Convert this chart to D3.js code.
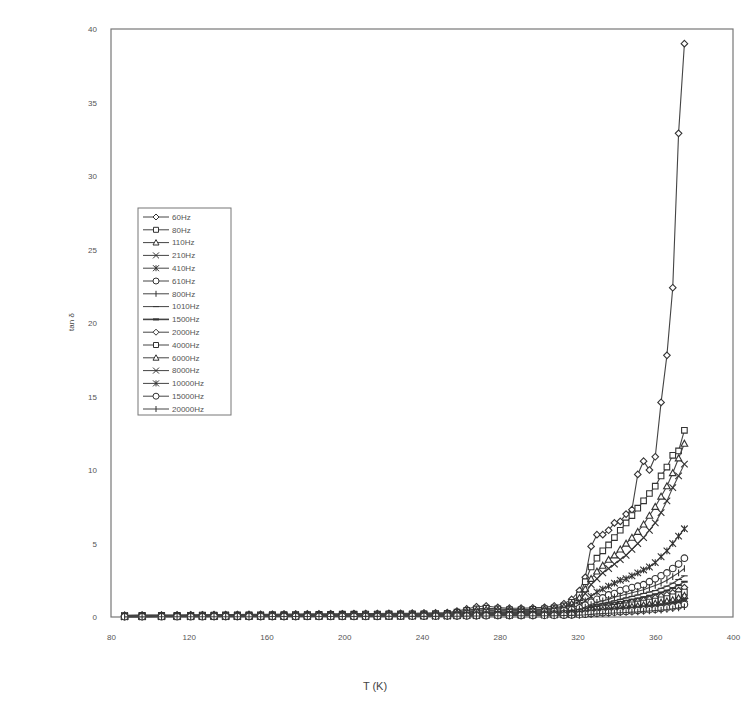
<!DOCTYPE html>
<html>
<head>
<meta charset="utf-8">
<script src="https://cdn.jsdelivr.net/npm/d3@7"></script>
<style>
  body { margin: 0; background: #fff; }
  svg { display: block; font-family: "Liberation Sans", Arial, sans-serif; }
  .axis text { fill: #555; font-size: 8px; }
  .axis path { display: none; }
</style>
</head>
<body>
<div id="chart"></div>
<script>
// temperature points (K), shared by every frequency
var temps = [87,96,106,114,121,127,133,139,145,151,157,163,169,175,181,187,193,199,205,211,217,223,229,235,241,247,253,
  258,263,268,273,279,285,291,297,303,308,313,317,321,
  324,327,330,333,336,339,342,345,348,351,354,357,360,363,366,369,372,375];

var freqs = ["60Hz","80Hz","110Hz","210Hz","410Hz","610Hz","800Hz","1010Hz","1500Hz","2000Hz","4000Hz","6000Hz","8000Hz","10000Hz","15000Hz","20000Hz"];

// tan delta per frequency, same order as temps
var tan60 = [0.12,0.13,0.13,0.14,0.15,0.15,0.16,0.16,0.17,0.18,0.18,0.19,0.2,0.2,0.21,0.21,0.22,0.22,0.23,0.24,0.24,0.25,0.25,0.26,0.27,0.28,0.3,
  0.4,0.55,0.7,0.75,0.65,0.6,0.6,0.62,0.66,0.75,0.9,1.2,1.8,
  2.7,4.8,5.6,5.6,5.9,6.4,6.5,7.0,7.3,9.7,10.6,10.0,10.9,14.6,17.8,22.4,32.9,39.0];
var tan80 = [0.1,0.11,0.11,0.12,0.12,0.13,0.13,0.14,0.14,0.15,0.15,0.16,0.16,0.17,0.17,0.18,0.18,0.19,0.19,0.2,0.2,0.21,0.21,0.22,0.22,0.23,0.25,
  0.33,0.45,0.55,0.6,0.55,0.5,0.5,0.52,0.56,0.62,0.75,1.0,1.5,
  2.4,3.4,4.0,4.5,4.9,5.4,5.9,6.4,6.9,7.4,7.9,8.4,8.9,9.6,10.2,11.0,11.3,12.7];
var tan110 = [0.09,0.1,0.1,0.1,0.11,0.11,0.12,0.12,0.13,0.13,0.14,0.14,0.15,0.15,0.16,0.16,0.17,0.17,0.18,0.18,0.19,0.19,0.2,0.2,0.21,0.21,0.22,
  0.28,0.38,0.46,0.5,0.48,0.46,0.46,0.48,0.52,0.58,0.68,0.9,1.3,
  1.9,2.6,3.1,3.5,3.9,4.2,4.6,5.0,5.4,5.8,6.3,6.9,7.5,8.2,8.9,9.8,10.8,11.8];
var tan210 = [0.08,0.09,0.09,0.09,0.1,0.1,0.1,0.11,0.11,0.12,0.12,0.13,0.13,0.14,0.14,0.15,0.15,0.15,0.16,0.16,0.17,0.17,0.18,0.18,0.19,0.19,0.2,
  0.25,0.33,0.4,0.44,0.43,0.42,0.42,0.44,0.47,0.52,0.6,0.8,1.1,
  1.6,2.2,2.6,3.0,3.3,3.6,3.9,4.2,4.6,5.0,5.4,5.9,6.4,7.1,7.9,8.8,9.6,10.4];
var tan410 = [0.07,0.08,0.08,0.08,0.09,0.09,0.09,0.1,0.1,0.1,0.11,0.11,0.12,0.12,0.12,0.13,0.13,0.13,0.14,0.14,0.15,0.15,0.15,0.16,0.16,0.17,0.17,
  0.21,0.27,0.32,0.35,0.35,0.35,0.36,0.38,0.4,0.44,0.5,0.62,0.8,
  1.1,1.4,1.7,1.9,2.1,2.3,2.5,2.6,2.8,3.0,3.2,3.4,3.7,4.1,4.5,5.0,5.5,6.0];
var tan610 = [0.06,0.07,0.07,0.07,0.08,0.08,0.08,0.09,0.09,0.09,0.1,0.1,0.1,0.11,0.11,0.11,0.12,0.12,0.12,0.13,0.13,0.13,0.14,0.14,0.14,0.15,0.15,
  0.18,0.23,0.27,0.3,0.3,0.3,0.31,0.32,0.34,0.37,0.42,0.5,0.62,
  0.8,1.0,1.2,1.3,1.5,1.6,1.8,1.9,2.0,2.1,2.2,2.4,2.6,2.8,3.0,3.3,3.6,4.0];
var tan800 = [0.06,0.06,0.06,0.07,0.07,0.07,0.08,0.08,0.08,0.08,0.09,0.09,0.09,0.1,0.1,0.1,0.11,0.11,0.11,0.12,0.12,0.12,0.13,0.13,0.13,0.14,0.14,
  0.16,0.2,0.24,0.26,0.27,0.27,0.28,0.29,0.3,0.33,0.37,0.44,0.54,
  0.68,0.85,1.0,1.1,1.2,1.35,1.45,1.55,1.65,1.75,1.85,2.0,2.15,2.3,2.5,2.75,3.0,3.3];
var tan1010 = [0.05,0.05,0.06,0.06,0.06,0.06,0.07,0.07,0.07,0.07,0.08,0.08,0.08,0.09,0.09,0.09,0.1,0.1,0.1,0.1,0.11,0.11,0.11,0.12,0.12,0.12,0.13,
  0.15,0.18,0.21,0.23,0.24,0.24,0.25,0.26,0.27,0.29,0.33,0.38,0.46,
  0.58,0.72,0.85,0.93,1.0,1.1,1.2,1.3,1.4,1.5,1.6,1.7,1.8,1.95,2.1,2.3,2.55,2.8];
var tan1500 = [0.05,0.05,0.05,0.05,0.06,0.06,0.06,0.06,0.07,0.07,0.07,0.07,0.08,0.08,0.08,0.08,0.09,0.09,0.09,0.09,0.1,0.1,0.1,0.11,0.11,0.11,0.12,
  0.13,0.16,0.19,0.21,0.22,0.22,0.22,0.23,0.24,0.26,0.29,0.33,0.4,
  0.5,0.62,0.73,0.8,0.87,0.94,1.02,1.1,1.18,1.26,1.35,1.45,1.55,1.67,1.8,1.97,2.17,2.4];
var tan2000 = [0.04,0.04,0.05,0.05,0.05,0.05,0.05,0.06,0.06,0.06,0.06,0.07,0.07,0.07,0.07,0.08,0.08,0.08,0.08,0.09,0.09,0.09,0.09,0.1,0.1,0.1,0.11,
  0.12,0.14,0.17,0.19,0.2,0.2,0.2,0.21,0.22,0.23,0.26,0.29,0.35,
  0.43,0.53,0.62,0.68,0.74,0.8,0.86,0.92,0.99,1.06,1.13,1.21,1.3,1.4,1.5,1.64,1.8,2.0];
var tan4000 = [0.04,0.04,0.04,0.04,0.04,0.05,0.05,0.05,0.05,0.05,0.06,0.06,0.06,0.06,0.06,0.07,0.07,0.07,0.07,0.08,0.08,0.08,0.08,0.09,0.09,0.09,0.1,
  0.11,0.13,0.15,0.17,0.18,0.18,0.18,0.19,0.2,0.21,0.23,0.26,0.3,
  0.37,0.45,0.52,0.57,0.62,0.67,0.72,0.77,0.83,0.89,0.95,1.02,1.09,1.17,1.26,1.37,1.52,1.7];
var tan6000 = [0.03,0.03,0.04,0.04,0.04,0.04,0.04,0.04,0.05,0.05,0.05,0.05,0.05,0.06,0.06,0.06,0.06,0.06,0.07,0.07,0.07,0.07,0.07,0.08,0.08,0.08,0.09,
  0.1,0.12,0.14,0.15,0.16,0.16,0.16,0.17,0.18,0.19,0.21,0.23,0.27,
  0.32,0.39,0.45,0.49,0.53,0.57,0.61,0.65,0.7,0.75,0.8,0.86,0.92,0.99,1.07,1.16,1.29,1.45];
var tan8000 = [0.03,0.03,0.03,0.03,0.03,0.04,0.04,0.04,0.04,0.04,0.04,0.05,0.05,0.05,0.05,0.05,0.05,0.06,0.06,0.06,0.06,0.06,0.07,0.07,0.07,0.07,0.08,
  0.09,0.11,0.12,0.13,0.14,0.14,0.14,0.15,0.16,0.17,0.18,0.2,0.23,
  0.28,0.34,0.39,0.43,0.46,0.49,0.53,0.56,0.6,0.64,0.69,0.74,0.79,0.85,0.92,1.0,1.11,1.25];
var tan10000 = [0.02,0.02,0.03,0.03,0.03,0.03,0.03,0.03,0.03,0.04,0.04,0.04,0.04,0.04,0.04,0.04,0.05,0.05,0.05,0.05,0.05,0.05,0.06,0.06,0.06,0.06,0.07,
  0.08,0.09,0.1,0.11,0.12,0.12,0.12,0.13,0.13,0.14,0.15,0.17,0.2,
  0.24,0.29,0.33,0.36,0.39,0.42,0.45,0.48,0.51,0.54,0.58,0.62,0.66,0.71,0.77,0.84,0.93,1.05];
var tan15000 = [0.02,0.02,0.02,0.02,0.02,0.02,0.03,0.03,0.03,0.03,0.03,0.03,0.03,0.03,0.04,0.04,0.04,0.04,0.04,0.04,0.04,0.05,0.05,0.05,0.05,0.05,0.06,
  0.06,0.07,0.08,0.09,0.1,0.1,0.1,0.1,0.11,0.11,0.12,0.14,0.16,
  0.19,0.23,0.26,0.29,0.31,0.33,0.36,0.38,0.41,0.44,0.47,0.5,0.53,0.57,0.62,0.68,0.75,0.85];
var tan20000 = [0.01,0.01,0.02,0.02,0.02,0.02,0.02,0.02,0.02,0.02,0.02,0.03,0.03,0.03,0.03,0.03,0.03,0.03,0.03,0.04,0.04,0.04,0.04,0.04,0.04,0.04,0.05,
  0.05,0.06,0.07,0.07,0.08,0.08,0.08,0.08,0.09,0.09,0.1,0.11,0.13,
  0.15,0.18,0.21,0.23,0.25,0.27,0.29,0.31,0.33,0.35,0.38,0.41,0.44,0.47,0.51,0.56,0.62,0.7];

var xTicks = [80,120,160,200,240,280,320,360,400];
var yTicks = [0,5,10,15,20,25,30,35,40];

var allValues = [tan60,tan80,tan110,tan210,tan410,tan610,tan800,tan1010,tan1500,tan2000,tan4000,tan6000,tan8000,tan10000,tan15000,tan20000];
// excel-like marker cycle
var markerOf = ["diamond","square","triangle","times","star","circle","bar","dash","dash2",
                "diamond","square","triangle","times","star","circle","bar"];

var width = 743, height = 718;
var svg = d3.select("#chart").append("svg")
    .attr("width", width)
    .attr("height", height);

var x = d3.scaleLinear().domain([80, 400]).range([111, 733]);
var y = d3.scaleLinear().domain([0, 40]).range([617, 29]);

function markerPath(kind, r) {
  switch (kind) {
    case "diamond": return "M0," + (-r) + "L" + r + ",0L0," + r + "L" + (-r) + ",0Z";
    case "square": return "M" + (-r + .5) + "," + (-r + .5) + "h" + (2 * r - 1) + "v" + (2 * r - 1) + "h" + (1 - 2 * r) + "Z";
    case "triangle": return "M0," + (-r) + "L" + r + "," + (r * .8) + "L" + (-r) + "," + (r * .8) + "Z";
    case "times": return "M" + (-r) + "," + (-r) + "L" + r + "," + r + "M" + (-r) + "," + r + "L" + r + "," + (-r);
    case "star": return "M" + (-r) + "," + (-r) + "L" + r + "," + r + "M" + (-r) + "," + r + "L" + r + "," + (-r) + "M0," + (-r) + "V" + r;
    case "circle": return "M" + r + ",0A" + r + "," + r + " 0 1,1 " + (-r) + ",0A" + r + "," + r + " 0 1,1 " + r + ",0";
    case "bar": return "M0," + (-r) + "V" + r;
    default: return "M" + (-r) + ",0H" + r;
  }
}
function markerFill(kind) {
  if (kind == "star") return "#333";
  if (kind == "diamond" || kind == "square" || kind == "triangle" || kind == "circle") return "#fff";
  return "none";
}

// frame
svg.append("rect")
    .attr("x", x(80)).attr("y", y(40))
    .attr("width", x(400) - x(80)).attr("height", y(0) - y(40))
    .attr("fill", "none").attr("stroke", "#777").attr("stroke-width", 1.2);

svg.append("g")
    .attr("class", "axis")
    .attr("transform", "translate(" + x(80) + ",0)")
    .call(d3.axisLeft(y).tickValues(yTicks).tickSize(0).tickPadding(14));

svg.append("g")
    .attr("class", "axis")
    .attr("transform", "translate(0," + y(0) + ")")
    .call(d3.axisBottom(x).tickValues(xTicks).tickSize(0).tickPadding(17));

var line = d3.line()
    .defined(function(d) { return d != null; })
    .x(function(d, i) { return x(temps[i]); })
    .y(function(d) { return y(d); });

var series = svg.append("g").selectAll("g")
    .data(allValues)
    .enter().append("g");

series.append("path")
    .attr("d", line)
    .attr("fill", "none")
    .attr("stroke", "#444")
    .attr("stroke-width", 1.1);

series.each(function(vals, k) {
  var kind = markerOf[k];
  d3.select(this).selectAll("path.mk")
      .data(vals)
      .enter().append("path")
      .attr("class", "mk")
      .attr("transform", function(d, i) { return "translate(" + x(temps[i]) + "," + y(d) + ")"; })
      .attr("d", markerPath(kind, 3.3))
      .attr("fill", markerFill(kind))
      .attr("stroke", "#333")
      .attr("stroke-width", kind == "dash2" ? 2 : 1.1);
});

// legend
var legend = svg.append("g").attr("transform", "translate(138,208)");
legend.append("rect")
    .attr("width", 93).attr("height", 207)
    .attr("fill", "#fff").attr("stroke", "#777");

var item = legend.selectAll("g.item")
    .data(freqs)
    .enter().append("g")
    .attr("class", "item")
    .attr("transform", function(d, i) { return "translate(0," + (9 + i * 12.8) + ")"; });

item.append("line")
    .attr("x1", 5).attr("x2", 31)
    .attr("stroke", "#444").attr("stroke-width", function(d, i) { return i == 8 ? 1.6 : 1; });

item.append("path")
    .attr("transform", "translate(18,0)")
    .attr("d", function(d, i) { return markerPath(markerOf[i], 3); })
    .attr("fill", function(d, i) { return markerFill(markerOf[i]); })
    .attr("stroke", "#333")
    .attr("stroke-width", function(d, i) { return markerOf[i] == "dash2" ? 2 : 1; });

item.append("text")
    .attr("x", 34).attr("dy", "0.35em")
    .style("font-size", "8px").attr("fill", "#555")
    .text(function(d) { return d; });

// axis titles
svg.append("text")
    .attr("x", 375).attr("y", 690)
    .attr("text-anchor", "middle")
    .style("font-size", "11px").attr("fill", "#444")
    .text("T (K)");

svg.append("text")
    .attr("transform", "translate(74,322) rotate(-90)")
    .attr("text-anchor", "middle")
    .style("font-size", "8px").attr("fill", "#444")
    .text("tan δ");
</script>
</body>
</html>
